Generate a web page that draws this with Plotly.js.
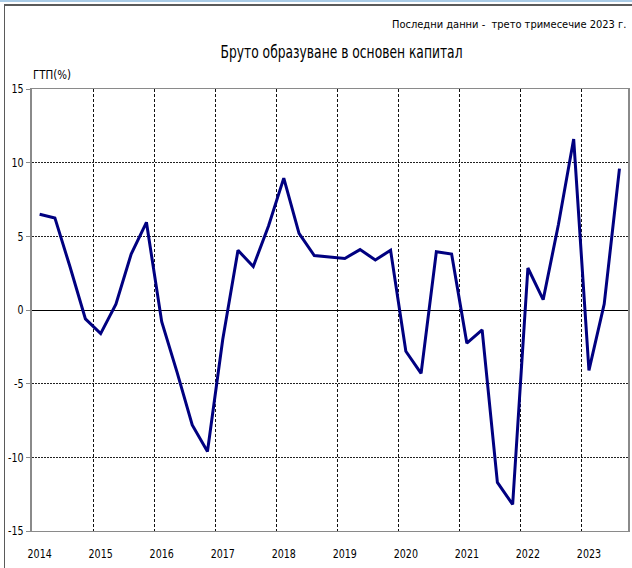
<!DOCTYPE html>
<html>
<head>
<meta charset="utf-8">
<script src="https://cdn.plot.ly/plotly-3.0.1.min.js"></script>
<style>
  html, body { margin: 0; padding: 0; background: #fff; }
  #wrap { position: relative; width: 632px; height: 568px; overflow: hidden; }
  #chart { position: absolute; left: 0; top: 0; width: 632px; height: 568px; }
  .fr { position: absolute; pointer-events: none; }
</style>
</head>
<body>
<div id="wrap">
  <div id="chart"></div>
  <div class="fr" style="left:0;top:0;width:632px;height:2px;background:#a9cbe6;"></div>
  <div class="fr" style="left:4px;top:4px;width:628px;height:2px;background:#5a5a5a;"></div>
  <div class="fr" style="left:4px;top:4px;width:1px;height:564px;background:#5a5a5a;"></div>
</div>
<script>
// Quarterly data, 2014 Q1 – 2023 Q3
const quarters = [
  '2014 Q1','2014 Q2','2014 Q3','2014 Q4',
  '2015 Q1','2015 Q2','2015 Q3','2015 Q4',
  '2016 Q1','2016 Q2','2016 Q3','2016 Q4',
  '2017 Q1','2017 Q2','2017 Q3','2017 Q4',
  '2018 Q1','2018 Q2','2018 Q3','2018 Q4',
  '2019 Q1','2019 Q2','2019 Q3','2019 Q4',
  '2020 Q1','2020 Q2','2020 Q3','2020 Q4',
  '2021 Q1','2021 Q2','2021 Q3','2021 Q4',
  '2022 Q1','2022 Q2','2022 Q3','2022 Q4',
  '2023 Q1','2023 Q2','2023 Q3'
];
const values = [
  6.5, 6.25, 2.9, -0.6,
  -1.6, 0.4, 3.8, 5.95,
  -0.8, -4.2, -7.8, -9.6,
  -2.0, 4.05, 2.95, 5.7,
  8.95, 5.2, 3.7, 3.6,
  3.5, 4.1, 3.4, 4.05,
  -2.8, -4.3, 3.95, 3.8,
  -2.25, -1.35, -11.7, -13.2,
  2.85, 0.7, 5.8, 11.6,
  -4.1, 0.4, 9.6
];
const yearLabels = ['2014','2015','2016','2017','2018','2019','2020','2021','2022','2023'];
const yTicks = [-15, -10, -5, 0, 5, 10, 15];

const chartTitle = 'Бруто образуване в основен капитал';
const subTitle = 'Последни данни -  трето тримесечие 2023 г.';
const yTitle = 'ГТП(%)';

const FONT = '"Liberation Sans Narrow", "DejaVu Sans Condensed", "Arial Narrow", sans-serif';

const xIdx = quarters.map((q, i) => i);
const yearTickVals = yearLabels.map(y => quarters.indexOf(y + ' Q1'));

const trace = {
  type: 'scatter',
  mode: 'lines',
  x: xIdx,
  y: values,
  text: quarters,
  line: { color: '#000080', width: 3 },
  hoverinfo: 'text+y'
};

const layout = {
  width: 632,
  height: 568,
  margin: { l: 32, r: 4, t: 89, b: 37 },
  paper_bgcolor: '#ffffff',
  plot_bgcolor: '#ffffff',
  showlegend: false,
  font: { family: FONT, size: 12, color: '#000' },
  xaxis: {
    type: 'linear',
    range: [-0.5, 38.56],
    tickmode: 'array',
    tickvals: yearTickVals,
    ticktext: yearLabels,
    showgrid: false,
    zeroline: false,
    showline: true,
    linecolor: '#8a8a8a',
    linewidth: 1,
    mirror: true,
    ticks: 'outside',
    ticklen: 12,
    tickcolor: 'rgba(0,0,0,0)',
    tickfont: { family: FONT, size: 12, color: '#000' },
    minor: {
      tickmode: 'linear',
      tick0: -0.5,
      dtick: 4,
      showgrid: true,
      gridcolor: '#111',
      gridwidth: 1,
      griddash: '3px,2px',
      ticks: ''
    }
  },
  yaxis: {
    range: [-15, 15],
    tickmode: 'array',
    tickvals: yTicks,
    ticktext: yTicks.map(String),
    showgrid: true,
    gridcolor: '#222',
    gridwidth: 1,
    griddash: '2px,1px',
    zeroline: true,
    zerolinecolor: '#000',
    zerolinewidth: 1,
    showline: true,
    linecolor: '#8a8a8a',
    linewidth: 2,
    mirror: true,
    ticks: 'outside',
    ticklen: 4,
    tickcolor: '#8a8a8a',
    tickfont: { family: FONT, size: 12, color: '#000' }
  },
  annotations: [
    { text: subTitle, xref: 'paper', yref: 'paper', x: 1.0, y: 1.147,
      xanchor: 'right', yanchor: 'middle', showarrow: false,
      font: { family: FONT, size: 11, color: '#000' } },
    { text: chartTitle, xref: 'paper', yref: 'paper', x: 0.52, y: 1.084,
      xanchor: 'center', yanchor: 'middle', showarrow: false,
      font: { family: FONT, size: 17, color: '#000' } },
    { text: yTitle, xref: 'paper', yref: 'paper', x: -0.002, y: 1.032,
      xanchor: 'left', yanchor: 'middle', showarrow: false,
      font: { family: FONT, size: 12, color: '#000' } }
  ]
};

// Target rendered widths (px) of the narrow original typeface, and which side stays fixed
const textFit = {};
textFit[chartTitle] = { w: 242, side: 0 };
textFit[yTitle] = { w: 38, side: -1 };
const tickSqueeze = 0.88;

function squeeze(el, w) {
  el.setAttribute('textLength', w.toFixed(1));
  el.setAttribute('lengthAdjust', 'spacingAndGlyphs');
}

Plotly.newPlot('chart', [trace], layout, { staticPlot: true, displayModeBar: false }).then(gd => {
  gd.querySelectorAll('text.annotation-text').forEach(t => {
    const fit = textFit[t.textContent];
    if (!fit) return;
    const orig = t.getComputedTextLength();
    squeeze(t, fit.w);
    const shift = fit.side * (orig - fit.w) / 2;
    const x0 = parseFloat(t.getAttribute('x') || '0');
    t.setAttribute('x', (x0 + shift).toFixed(1));
  });
  gd.querySelectorAll('.xtick text, .ytick text').forEach(t => {
    squeeze(t, t.getComputedTextLength() * tickSqueeze);
  });
});
</script>
</body>
</html>
